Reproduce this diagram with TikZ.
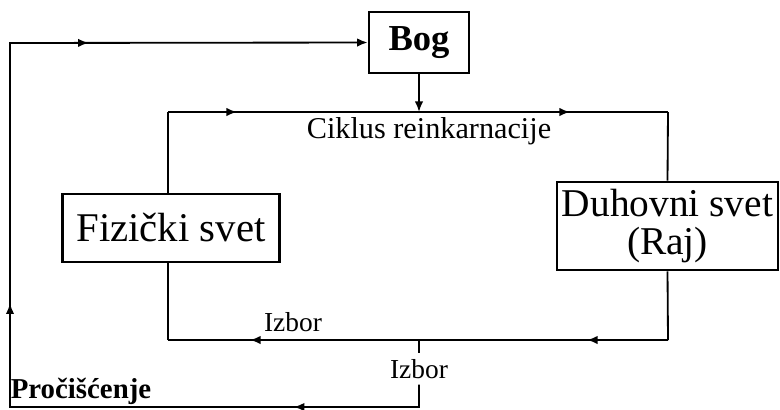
\documentclass[tikz,border=0pt]{standalone}
\usepackage{fontspec}
\setmainfont{Liberation Serif}
\usepackage{tikz}
\usetikzlibrary{arrows.meta,decorations.markings,positioning,calc}

\tikzset{
  line/.style={line width=1.3pt},
  box/.style={draw,line width=1.8pt,rectangle,inner sep=0pt,align=center},
  tip/.style={-{Latex[length=7.5pt,width=6pt]}},
  twoarrows/.style 2 args={postaction={decorate},decoration={markings,
    mark=at position #1 with {\arrow{Latex[length=7.5pt,width=6pt]}},
    mark=at position #2 with {\arrow{Latex[length=7.5pt,width=6pt]}}}},
}

\begin{document}
\begin{tikzpicture}[x=0.025cm,y=-0.025cm]
    \useasboundingbox (0,0) rectangle (780,409);

    % boxes
    \node[box,minimum width=2.5cm,minimum height=1.525cm,
      font=\fontsize{26}{28}\selectfont\bfseries] (bog) at (419,42.5) {Bog};
    \node[box,minimum width=5.425cm,minimum height=1.7cm,
      font=\fontsize{29}{31}\selectfont] (fiz) at (171,228) {Fizički svet};
    \node[box,minimum width=5.525cm,minimum height=2.2cm,
      font=\fontsize{28}{27}\selectfont] (duh) at (667.5,226) {Duhovni svet\\(Raj)};

    % corners of the cycle
    \coordinate (tl) at (168,112);
    \coordinate (tr) at (668,112);
    \coordinate (br) at (668,340);
    \coordinate (bl) at (168,340);
    \coordinate (entry) at (419,112);
    \coordinate (split) at (419,340);
    \coordinate (obr) at (419,407);
    \coordinate (obl) at (10,407);
    \coordinate (otl) at (10,43);

    % labels
    \node[font=\fontsize{21.5}{23}\selectfont] (ciklus) at (429,131) {Ciklus reinkarnacije};
    \node[font=\fontsize{19.5}{21}\selectfont] (izbora) at (293,322) {Izbor};
    \node[font=\fontsize{19.5}{21}\selectfont,inner sep=4pt] (izborb) at (419,369) {Izbor};
    \node[font=\fontsize{20.5}{22}\selectfont\bfseries] (proc) at (81,391) {Pročišćenje};

    % cycle
    \draw[line] (tl |- fiz.north) -- (tl);
    \draw[line,twoarrows={0.138}{0.804}] (tl) -- (tr);
    \draw[line] (tr) -- (duh.north);
    \draw[line] (duh.south) -- (br);
    \draw[line,twoarrows={0.162}{0.836}] (br) -- (bl);
    \draw[line] (bl) -- (bl |- fiz.south);
    \draw[line,tip] (bog.south) -- (entry);

    % way out
    \draw[line] (split) -- (izborb.north);
    \draw[line,tip,postaction={decorate},decoration={markings,
      mark=at position 0.128 with {\arrow{Latex[length=7.5pt,width=6pt]}},
      mark=at position 0.464 with {\arrow{Latex[length=7.5pt,width=6pt]}},
      mark=at position 0.758 with {\arrow{Latex[length=7.5pt,width=6pt]}}}]
      (izborb.south) -- (obr) -- (obl) -- (otl) -- (bog.west);
\end{tikzpicture}
\end{document}
